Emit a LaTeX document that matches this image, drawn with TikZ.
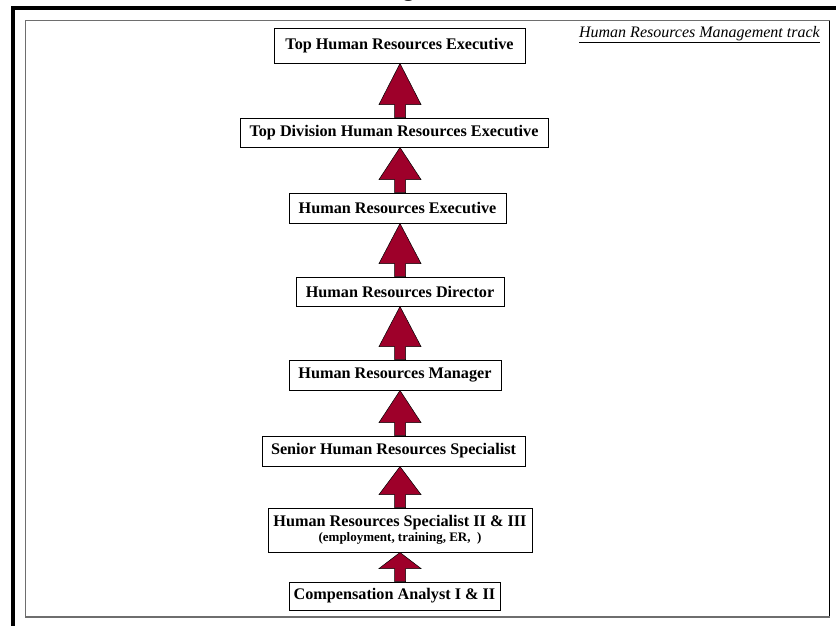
\documentclass[tikz,border=0pt]{standalone}
\usepackage{fontspec}
\setmainfont{Liberation Serif}
\usetikzlibrary{calc}
\definecolor{arrowred}{RGB}{158,0,42}
\definecolor{framegray}{RGB}{110,110,110}
\newcommand\uparr[2]{%
  \draw[uparrow] let \p1=(#2.north -| ax), \p2=(#1.south -| ax) in
    (\x1-5.5pt,\y1) -- (\x1-5.5pt,\y1+13pt) -- (\x1-21pt,\y1+13pt) -- (\x2,\y2)
    -- (\x1+21pt,\y1+13pt) -- (\x1+5.5pt,\y1+13pt) -- (\x1+5.5pt,\y1) -- cycle;}
\begin{document}
\begin{tikzpicture}[x=1pt,y=-1pt,
  box/.style={draw=black, line width=1pt, fill=white, inner sep=0pt,
    font=\fontsize{16.2}{17}\selectfont\bfseries, align=center},
  uparrow/.style={fill=arrowred, draw=black, line width=0.5pt, line join=miter},
  outerframe/.style={draw=black, line width=4pt},
  innerframe/.style={draw=framegray, line width=1pt}]
\useasboundingbox (0,0) rectangle (836,625);
% title (cut off at the top of the page, as in the reference)
\node[font=\fontsize{22}{24}\selectfont\bfseries, anchor=base west] (title) at (380,-4) {Figure 3};
% frames
\draw[outerframe] (13,660) -- (13,8) -- (860,8);
\draw[innerframe] (25.5,616) -- (25.5,20.5) -- (829.5,20.5);
\draw[draw=black, line width=1pt] (829.5,20.5) -- (829.5,617);
\draw[draw=framegray, line width=2.5pt] (25,617) -- (830,617);
% track label
\node[font=\fontsize{16}{17}\selectfont\itshape, anchor=east, inner sep=0pt] (track) at (820,35) {\underline{Human Resources Management track}};
% boxes
\coordinate (ax) at (400,0);
\node[box, minimum width=251pt, minimum height=35pt] (b1) at (399.5,45.5) {Top Human Resources Executive};
\node[box, minimum width=308pt, minimum height=29pt] (b2) at (394,132.5) {Top Division Human Resources Executive};
\node[box, minimum width=217pt, minimum height=30pt] (b3) at (397.5,208) {Human Resources Executive};
\node[box, minimum width=208pt, minimum height=29pt] (b4) at (400,291.5) {Human Resources Director};
\node[box, minimum width=212pt, minimum height=30pt] (b5) at (395,375) {Human Resources Manager};
\node[box, minimum width=263pt, minimum height=30pt] (b6) at (393.5,451) {Senior Human Resources Specialist};
\node[box, minimum width=264pt, minimum height=44pt] (b7) at (400,530) {Human Resources Specialist II \& III\\[-2pt]{\fontsize{13}{14}\selectfont (employment, training, ER,\ \ )}};
\node[box, minimum width=211pt, minimum height=28pt] (b8) at (394.5,596) {Compensation Analyst I \& II};
% arrows
\uparr{b1}{b2}
\uparr{b2}{b3}
\uparr{b3}{b4}
\uparr{b4}{b5}
\uparr{b5}{b6}
\uparr{b6}{b7}
\uparr{b7}{b8}
\end{tikzpicture}
\end{document}
